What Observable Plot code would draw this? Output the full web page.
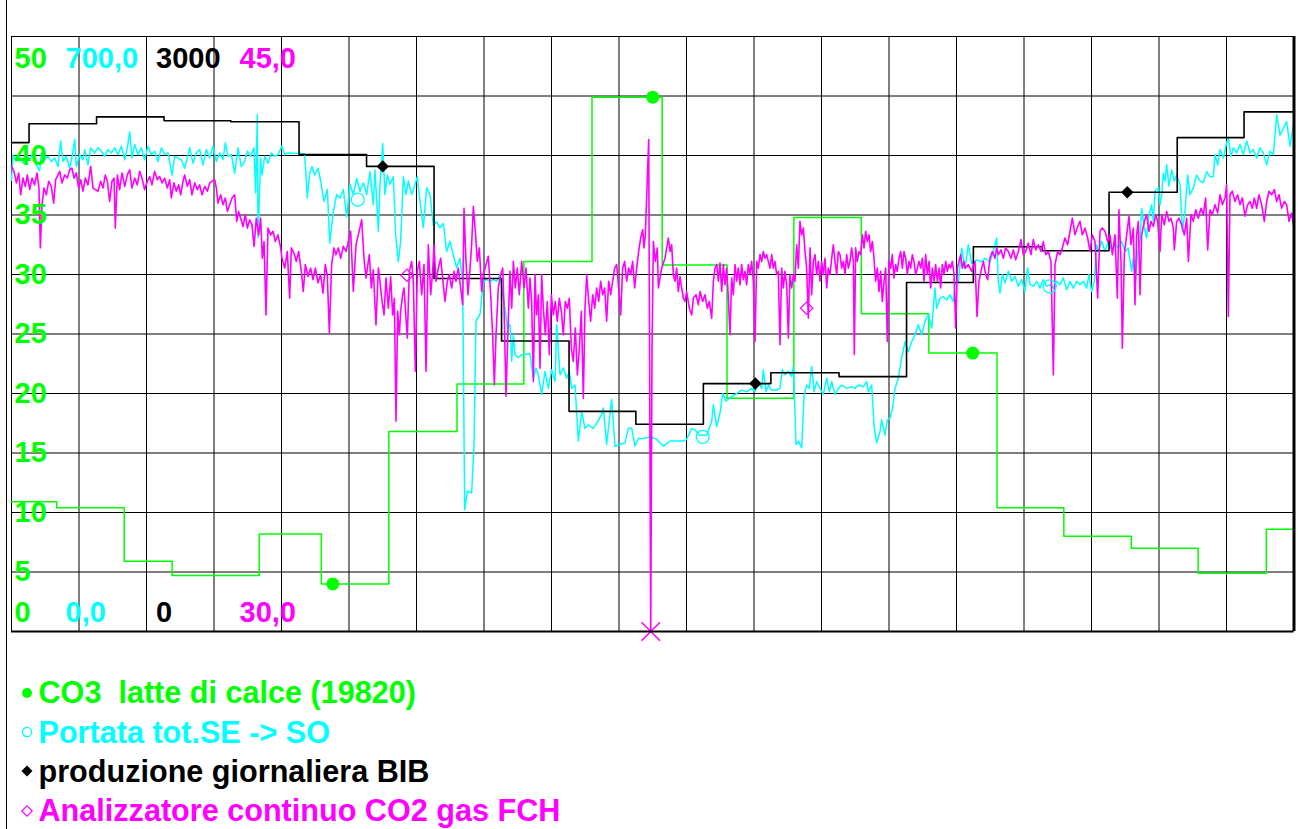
<!DOCTYPE html>
<html>
<head>
<meta charset="utf-8">
<script src="https://cdn.jsdelivr.net/npm/d3@7"></script>
<script src="https://cdn.jsdelivr.net/npm/@observablehq/plot@0.6"></script>
<style>
  html, body { margin: 0; padding: 0; background: #fff; }
  #page { position: relative; width: 1298px; height: 829px; overflow: hidden;
          font-family: "Liberation Sans", Arial, Helvetica, sans-serif; }
  #edge { position: absolute; left: 6px; top: 0; width: 1px; height: 829px; background: #000; }
  #chart { position: absolute; left: 0; top: 0; }
  #legend { position: absolute; left: 0; top: 673px; }
  .row { display: flex; align-items: center; height: 39.4px; font-weight: bold;
         font-size: 30.6px; white-space: pre; }
  .row svg { margin-left: 20px; margin-right: 4.5px; flex: none; }
</style>
</head>
<body>
<div id="page">
  <div id="edge"></div>
  <div id="chart"></div>
  <div id="legend"></div>
</div>
<script>
// ---- Axis ranges of the four series (min at the bottom, max at the top) ----
const limeRange = [0, 50];      // CO3 latte di calce
const flowRange = [0, 700];     // Portata tot. SE -> SO
const prodRange = [0, 3000];    // produzione giornaliera BIB
const co2Range  = [30, 45];     // CO2 gas FCH (%)
const limeTicks = [5, 10, 15, 20, 25, 30, 35, 40];

// ---- CO3 in milk of lime: lab value, held until the next analysis (days) ----
const limeDay = [0, 0.67, 1.67, 2.38, 3.67, 4.59, 5.59, 6.60, 7.59, 8.60, 9.64, 10.60, 11.59, 12.59, 13.59, 14.60, 15.59, 16.59, 17.58, 18.59, 19];
const limeCO3 = [10.9, 10.4, 5.9, 4.7, 8.2, 4.0, 16.8, 20.8, 31.1, 44.9, 30.8, 19.6, 34.8, 26.7, 23.4, 10.4, 8.0, 7.0, 4.9, 8.6, 8.6];

// ---- Daily BIB production (shift day starts ~06:00) ----
const prodDay = [0, 0.26, 1.26, 2.26, 3.25, 4.26, 5.26, 6.26, 7.26, 8.26, 9.25, 10.25, 11.25, 12.26, 13.26, 14.25, 15.27, 16.26, 17.27, 18.26, 19];
const prodBIB = [2465, 2560, 2595, 2575, 2570, 2405, 2345, 1780, 1465, 1110, 1045, 1250, 1305, 1285, 1760, 1940, 1920, 2215, 2490, 2620, 2620];

// ---- Total flow SE -> SO ----
const flowDay = [
  0.000, 0.022, 0.072, 0.121, 0.170, 0.220, 0.269, 0.319, 0.368, 0.417,
  0.442, 0.491, 0.541, 0.590, 0.640, 0.689, 0.728, 0.763, 0.812, 0.862,
  0.911, 0.936, 0.960, 1.010, 1.059, 1.084, 1.133, 1.173, 1.232, 1.281,
  1.331, 1.380, 1.430, 1.479, 1.528, 1.578, 1.627, 1.677, 1.716, 1.751,
  1.785, 1.825, 1.874, 1.923, 1.973, 2.022, 2.072, 2.121, 2.170, 2.220,
  2.269, 2.319, 2.378, 2.417, 2.467, 2.516, 2.565, 2.640, 2.689, 2.738,
  2.788, 2.837, 2.886, 2.936, 2.985, 3.035, 3.084, 3.133, 3.168, 3.207,
  3.257, 3.306, 3.356, 3.405, 3.454, 3.494, 3.543, 3.593, 3.617, 3.642,
  3.652, 3.691, 3.711, 3.751, 3.800, 3.849, 3.899, 3.948, 4.007, 4.047,
  4.096, 4.343, 4.383, 4.417, 4.452, 4.491, 4.541, 4.580, 4.630, 4.679,
  4.714, 4.768, 4.817, 4.867, 4.916, 4.965, 5.015, 5.064, 5.114, 5.163,
  5.212, 5.262, 5.311, 5.360, 5.385, 5.435, 5.459, 5.499, 5.533, 5.568,
  5.607, 5.657, 5.691, 5.731, 5.765, 5.805, 5.844, 5.879, 5.928, 5.978,
  6.012, 6.052, 6.101, 6.151, 6.200, 6.249, 6.299, 6.348, 6.398, 6.447,
  6.496, 6.546, 6.595, 6.644, 6.684, 6.714, 6.753, 6.817, 6.852, 6.881,
  6.941, 6.990, 7.040, 7.089, 7.138, 7.188, 7.237, 7.262, 7.311, 7.346,
  7.385, 7.410, 7.435, 7.459, 7.509, 7.558, 7.607, 7.681, 7.731, 7.770,
  7.805, 7.854, 7.904, 7.953, 8.002, 8.052, 8.077, 8.126, 8.175, 8.225,
  8.264, 8.299, 8.348, 8.398, 8.447, 8.496, 8.546, 8.620, 8.669, 8.743,
  8.768, 8.817, 8.891, 8.941, 9.015, 9.089, 9.138, 9.188, 9.237, 9.286,
  9.360, 9.410, 9.459, 9.533, 9.558, 9.657, 9.756, 9.854, 9.953, 10.002,
  10.077, 10.126, 10.200, 10.299, 10.373, 10.398, 10.447, 10.496, 10.536, 10.585,
  10.644, 10.743, 10.817, 10.891, 10.965, 11.015, 11.064, 11.114, 11.138, 11.178,
  11.212, 11.262, 11.336, 11.385, 11.420, 11.459, 11.509, 11.558, 11.583, 11.593,
  11.622, 11.657, 11.706, 11.741, 11.780, 11.820, 11.854, 11.889, 11.928, 11.978,
  12.027, 12.077, 12.116, 12.151, 12.200, 12.249, 12.299, 12.373, 12.447, 12.496,
  12.546, 12.620, 12.669, 12.694, 12.743, 12.778, 12.817, 12.867, 12.891, 12.941,
  12.975, 13.015, 13.054, 13.089, 13.138, 13.188, 13.237, 13.286, 13.336, 13.385,
  13.435, 13.484, 13.533, 13.583, 13.632, 13.681, 13.706, 13.756, 13.805, 13.854,
  13.904, 13.953, 13.978, 14.027, 14.077, 14.126, 14.175, 14.225, 14.299, 14.373,
  14.422, 14.496, 14.546, 14.595, 14.620, 14.644, 14.679, 14.719, 14.768, 14.817,
  14.867, 14.916, 14.965, 15.015, 15.054, 15.089, 15.138, 15.188, 15.237, 15.286,
  15.336, 15.385, 15.435, 15.484, 15.533, 15.583, 15.632, 15.681, 15.731, 15.780,
  15.830, 15.879, 15.928, 15.963, 16.002, 16.042, 16.077, 16.101, 16.151, 16.200,
  16.249, 16.299, 16.348, 16.398, 16.447, 16.496, 16.543, 16.595, 16.620, 16.654,
  16.684, 16.719, 16.743, 16.783, 16.817, 16.852, 16.891, 16.916, 16.941, 16.990,
  17.015, 17.040, 17.064, 17.089, 17.114, 17.148, 17.188, 17.227, 17.262, 17.311,
  17.346, 17.385, 17.425, 17.459, 17.509, 17.558, 17.607, 17.657, 17.706, 17.756,
  17.805, 17.830, 17.869, 17.904, 17.953, 18.002, 18.027, 18.067, 18.101, 18.151,
  18.200, 18.249, 18.299, 18.348, 18.398, 18.447, 18.496, 18.546, 18.595, 18.644,
  18.694, 18.743, 18.793, 18.842, 18.891, 18.941, 18.990
];
const flowRate = [
  531, 561, 553, 559, 551, 561, 555, 563, 549, 542,
  563, 555, 559, 553, 557, 547, 577, 553, 559, 545,
  565, 579, 547, 561, 555, 567, 549, 569, 563, 569,
  565, 559, 567, 563, 569, 561, 571, 555, 569, 588,
  557, 573, 561, 569, 555, 571, 561, 565, 553, 569,
  561, 563, 537, 559, 557, 555, 545, 569, 551, 563,
  567, 549, 567, 557, 571, 553, 563, 555, 575, 559,
  561, 539, 569, 547, 553, 565, 559, 569, 516, 608,
  463, 557, 537, 559, 551, 563, 559, 561, 571, 561,
  563, 562, 510, 539, 547, 537, 545, 530, 506, 520,
  457, 494, 514, 510, 520, 488, 526, 514, 533, 518,
  528, 514, 541, 502, 543, 471, 526, 574, 514, 537,
  526, 535, 467, 435, 459, 535, 514, 530, 514, 526,
  535, 506, 475, 522, 514, 478, 482, 475, 480, 447,
  459, 443, 428, 439, 412, 143, 165, 163, 220, 365,
  373, 412, 414, 412, 414, 412, 420, 404, 380, 357,
  361, 318, 349, 326, 322, 326, 326, 327, 298, 310,
  302, 279, 306, 286, 308, 294, 361, 302, 310, 298,
  306, 286, 290, 224, 259, 239, 243, 239, 245, 255,
  263, 220, 273, 218, 220, 222, 239, 239, 218, 227,
  227, 228, 229, 227, 226, 218, 224, 224, 224, 226,
  239, 237, 231, 231, 247, 267, 241, 257, 280, 271,
  275, 280, 284, 282, 286, 282, 294, 286, 308, 282,
  290, 284, 284, 286, 308, 302, 306, 300, 312, 294,
  220, 224, 216, 277, 290, 286, 312, 282, 294, 286,
  279, 298, 282, 294, 279, 286, 290, 286, 288, 286,
  290, 288, 294, 282, 290, 243, 222, 235, 249, 231,
  249, 251, 263, 286, 298, 322, 341, 329, 341, 349,
  361, 349, 365, 373, 357, 404, 380, 392, 394, 390,
  396, 388, 408, 412, 451, 427, 455, 433, 437, 435,
  439, 435, 447, 463, 412, 398, 420, 410, 424, 412,
  418, 406, 414, 400, 428, 408, 406, 412, 404, 414,
  406, 408, 404, 412, 408, 416, 402, 412, 404, 412,
  408, 412, 404, 420, 400, 412, 455, 447, 459, 447,
  459, 449, 457, 451, 459, 447, 451, 424, 439, 412,
  447, 459, 498, 475, 463, 490, 502, 482, 518, 522,
  502, 514, 539, 530, 549, 524, 543, 530, 537, 526,
  471, 494, 537, 514, 522, 537, 530, 528, 541, 535,
  535, 561, 549, 567, 557, 575, 580, 559, 569, 563,
  573, 561, 577, 563, 567, 557, 569, 563, 549, 565,
  561, 608, 584, 592, 600, 571, 596
];

// ---- Continuous CO2 analyser, FCH gas (%) ----
const co2Day = [
  0.000, 0.037, 0.072, 0.106, 0.136, 0.170, 0.205, 0.235, 0.269, 0.304,
  0.343, 0.378, 0.407, 0.427, 0.452, 0.481, 0.516, 0.551, 0.590, 0.625,
  0.654, 0.689, 0.714, 0.748, 0.788, 0.827, 0.862, 0.896, 0.926, 0.960,
  0.995, 1.025, 1.059, 1.094, 1.133, 1.173, 1.207, 1.242, 1.281, 1.321,
  1.356, 1.390, 1.420, 1.454, 1.489, 1.519, 1.538, 1.568, 1.602, 1.637,
  1.677, 1.716, 1.751, 1.785, 1.825, 1.864, 1.899, 1.933, 1.973, 2.012,
  2.047, 2.081, 2.121, 2.160, 2.195, 2.230, 2.269, 2.309, 2.343, 2.368,
  2.407, 2.442, 2.477, 2.506, 2.541, 2.565, 2.605, 2.640, 2.674, 2.714,
  2.753, 2.788, 2.822, 2.862, 2.901, 2.936, 2.970, 3.010, 3.035, 3.059,
  3.099, 3.133, 3.168, 3.198, 3.232, 3.267, 3.306, 3.336, 3.365, 3.395,
  3.430, 3.464, 3.494, 3.528, 3.563, 3.593, 3.627, 3.662, 3.691, 3.716,
  3.741, 3.770, 3.800, 3.840, 3.874, 3.909, 3.948, 3.988, 4.007, 4.047,
  4.086, 4.121, 4.146, 4.185, 4.220, 4.254, 4.294, 4.323, 4.353, 4.393,
  4.432, 4.467, 4.501, 4.541, 4.580, 4.615, 4.649, 4.679, 4.709, 4.743,
  4.778, 4.807, 4.842, 4.877, 4.916, 4.956, 4.990, 5.025, 5.064, 5.104,
  5.138, 5.188, 5.222, 5.252, 5.272, 5.301, 5.331, 5.360, 5.400, 5.435,
  5.459, 5.484, 5.519, 5.548, 5.583, 5.617, 5.647, 5.672, 5.696, 5.721,
  5.746, 5.765, 5.795, 5.815, 5.864, 5.894, 5.928, 5.953, 5.983, 6.012,
  6.042, 6.077, 6.111, 6.141, 6.175, 6.210, 6.240, 6.259, 6.289, 6.323,
  6.358, 6.388, 6.422, 6.457, 6.486, 6.521, 6.556, 6.585, 6.620, 6.654,
  6.684, 6.704, 6.733, 6.763, 6.793, 6.817, 6.842, 6.872, 6.901, 6.931,
  6.965, 6.990, 7.030, 7.064, 7.099, 7.128, 7.153, 7.178, 7.212, 7.247,
  7.277, 7.296, 7.326, 7.356, 7.385, 7.410, 7.435, 7.464, 7.494, 7.523,
  7.558, 7.593, 7.622, 7.657, 7.681, 7.706, 7.731, 7.756, 7.780, 7.805,
  7.830, 7.854, 7.879, 7.909, 7.938, 7.968, 7.998, 8.027, 8.057, 8.086,
  8.116, 8.146, 8.175, 8.205, 8.235, 8.264, 8.294, 8.323, 8.353, 8.383,
  8.412, 8.442, 8.472, 8.496, 8.521, 8.551, 8.580, 8.610, 8.640, 8.669,
  8.699, 8.728, 8.758, 8.788, 8.817, 8.847, 8.877, 8.906, 8.936, 8.965,
  8.995, 9.025, 9.054, 9.084, 9.114, 9.143, 9.173, 9.202, 9.232, 9.262,
  9.291, 9.321, 9.351, 9.370, 9.390, 9.440, 9.470, 9.489, 9.509, 9.538,
  9.568, 9.583, 9.632, 9.681, 9.731, 9.756, 9.780, 9.805, 9.830, 9.854,
  9.879, 9.904, 9.928, 9.953, 9.978, 10.002, 10.042, 10.077, 10.101, 10.141,
  10.175, 10.200, 10.240, 10.274, 10.309, 10.338, 10.373, 10.398, 10.422, 10.447,
  10.472, 10.496, 10.521, 10.546, 10.570, 10.595, 10.620, 10.644, 10.669, 10.694,
  10.719, 10.743, 10.768, 10.793, 10.817, 10.842, 10.867, 10.891, 10.916, 10.941,
  10.965, 10.990, 11.015, 11.040, 11.064, 11.089, 11.114, 11.138, 11.163, 11.188,
  11.212, 11.237, 11.262, 11.286, 11.311, 11.336, 11.360, 11.385, 11.410, 11.435,
  11.459, 11.484, 11.509, 11.533, 11.558, 11.583, 11.607, 11.632, 11.657, 11.681,
  11.706, 11.731, 11.756, 11.780, 11.805, 11.830, 11.854, 11.879, 11.904, 11.928,
  11.953, 11.978, 12.002, 12.027, 12.052, 12.077, 12.101, 12.126, 12.151, 12.175,
  12.200, 12.225, 12.249, 12.274, 12.299, 12.323, 12.348, 12.373, 12.398, 12.422,
  12.447, 12.472, 12.486, 12.506, 12.531, 12.556, 12.580, 12.605, 12.630, 12.654,
  12.679, 12.704, 12.728, 12.753, 12.778, 12.802, 12.827, 12.852, 12.877, 12.901,
  12.926, 12.951, 12.975, 13.000, 13.025, 13.049, 13.074, 13.099, 13.123, 13.148,
  13.173, 13.198, 13.222, 13.247, 13.272, 13.296, 13.321, 13.346, 13.370, 13.395,
  13.420, 13.444, 13.469, 13.494, 13.519, 13.543, 13.568, 13.593, 13.617, 13.642,
  13.667, 13.691, 13.716, 13.741, 13.765, 13.790, 13.815, 13.840, 13.864, 13.889,
  13.914, 13.938, 13.963, 13.988, 14.012, 14.037, 14.062, 14.086, 14.111, 14.126,
  14.175, 14.225, 14.274, 14.304, 14.333, 14.373, 14.398, 14.432, 14.462, 14.496,
  14.531, 14.570, 14.595, 14.620, 14.659, 14.694, 14.728, 14.768, 14.807, 14.842,
  14.877, 14.916, 14.956, 14.990, 15.025, 15.064, 15.104, 15.138, 15.173, 15.212,
  15.252, 15.286, 15.321, 15.360, 15.400, 15.435, 15.459, 15.499, 15.533, 15.568,
  15.607, 15.647, 15.681, 15.716, 15.756, 15.795, 15.830, 15.864, 15.904, 15.943,
  15.978, 16.012, 16.052, 16.091, 16.126, 16.160, 16.200, 16.240, 16.274, 16.309,
  16.348, 16.383, 16.407, 16.437, 16.457, 16.486, 16.521, 16.556, 16.585, 16.620,
  16.644, 16.669, 16.694, 16.719, 16.743, 16.783, 16.817, 16.852, 16.881, 16.916,
  16.951, 16.980, 17.015, 17.040, 17.079, 17.114, 17.148, 17.178, 17.212, 17.227,
  17.262, 17.296, 17.336, 17.375, 17.410, 17.435, 17.474, 17.509, 17.543, 17.583,
  17.622, 17.657, 17.691, 17.721, 17.756, 17.790, 17.830, 17.869, 17.904, 17.938,
  17.978, 18.002, 18.027, 18.052, 18.086, 18.126, 18.165, 18.200, 18.235, 18.274,
  18.314, 18.348, 18.383, 18.412, 18.447, 18.481, 18.521, 18.560, 18.595, 18.630,
  18.669, 18.709, 18.743, 18.778, 18.817, 18.857, 18.891, 18.926, 18.965, 19.000
];
const co2Pct = [
  41.73, 41.60, 41.31, 41.56, 41.01, 41.43, 41.22, 41.51, 41.14, 41.43,
  41.26, 41.56, 41.18, 39.67, 40.76, 41.18, 41.01, 41.35, 41.22, 40.80,
  41.39, 41.51, 41.60, 41.31, 41.51, 41.43, 41.64, 41.68, 41.43, 41.56,
  41.18, 41.39, 41.10, 41.43, 41.26, 41.73, 41.18, 41.14, 41.10, 41.35,
  41.18, 41.51, 41.35, 40.84, 41.35, 41.43, 40.17, 41.51, 41.14, 41.56,
  41.22, 41.51, 41.64, 41.18, 41.43, 41.26, 41.60, 41.43, 41.14, 41.35,
  41.47, 41.26, 41.60, 41.39, 41.47, 41.31, 41.43, 41.18, 41.39, 40.93,
  41.31, 41.10, 41.26, 41.01, 41.35, 41.51, 41.22, 41.39, 41.01, 41.31,
  41.14, 41.26, 41.01, 41.22, 41.10, 41.31, 41.35, 41.39, 41.18, 40.80,
  41.01, 40.76, 40.93, 40.59, 40.76, 40.93, 41.01, 40.34, 40.59, 40.42,
  40.21, 40.51, 40.17, 40.38, 40.25, 39.71, 40.42, 40.00, 40.42, 39.41,
  39.83, 37.98, 40.17, 40.00, 40.09, 39.83, 40.00, 39.67, 39.41, 39.16,
  39.58, 38.40, 39.67, 39.54, 39.33, 39.58, 39.08, 38.57, 39.25, 38.95,
  39.16, 38.87, 39.16, 38.79, 39.00, 38.53, 39.25, 38.95, 37.52, 39.25,
  39.67, 39.50, 39.67, 39.41, 39.71, 39.58, 39.83, 40.09, 38.57, 39.75,
  40.00, 40.38, 39.41, 38.91, 39.16, 39.50, 38.66, 39.12, 37.73, 39.16,
  38.83, 38.40, 37.98, 38.91, 38.15, 38.95, 37.98, 38.40, 35.30, 38.07,
  37.48, 38.07, 38.49, 38.66, 37.40, 39.08, 39.33, 38.83, 36.56, 39.08,
  39.33, 38.49, 39.25, 36.56, 39.75, 38.49, 39.08, 39.75, 38.83, 39.16,
  39.41, 38.91, 38.32, 38.83, 39.00, 38.66, 39.08, 38.83, 39.16, 38.66,
  38.24, 40.67, 39.33, 38.49, 39.16, 39.75, 40.72, 40.09, 39.33, 39.67,
  38.57, 39.00, 39.25, 39.46, 38.49, 37.48, 36.22, 37.48, 38.66, 39.00,
  39.16, 38.24, 35.93, 37.65, 39.08, 38.15, 39.33, 38.66, 39.16, 38.49,
  39.33, 38.66, 39.16, 38.15, 38.91, 38.32, 36.30, 39.00, 37.98, 38.49,
  36.64, 39.00, 38.15, 37.48, 38.32, 36.98, 38.49, 37.98, 38.32, 37.82,
  38.40, 38.07, 37.48, 38.32, 38.15, 38.40, 37.14, 36.81, 37.65, 36.47,
  37.14, 38.07, 35.88, 38.15, 39.00, 38.32, 37.82, 38.49, 38.15, 38.66,
  38.32, 38.83, 38.49, 38.66, 37.82, 38.83, 38.49, 38.83, 39.16, 39.25,
  38.66, 37.98, 39.16, 39.33, 38.83, 39.16, 39.00, 39.33, 38.66, 39.16,
  39.58, 39.92, 40.13, 39.67, 40.00, 42.40, 30.00, 37.14, 39.83, 39.33,
  39.67, 38.66, 39.16, 39.41, 39.92, 39.58, 39.75, 39.00, 38.83, 39.16,
  38.57, 38.95, 38.66, 38.40, 38.32, 38.57, 38.15, 37.98, 38.40, 38.49,
  38.24, 38.57, 38.32, 38.49, 38.15, 38.32, 37.90, 38.83, 39.16, 39.25,
  38.83, 39.29, 38.57, 39.25, 38.74, 39.16, 38.40, 37.48, 38.91, 38.49,
  39.25, 38.83, 39.16, 38.74, 39.25, 38.87, 39.08, 38.74, 39.25, 39.00,
  39.33, 38.83, 37.31, 39.33, 39.16, 39.50, 39.33, 39.58, 39.41, 39.50,
  39.33, 39.16, 39.50, 39.16, 39.33, 39.00, 39.08, 37.23, 39.16, 38.66,
  39.08, 38.74, 37.40, 39.00, 38.66, 39.00, 38.83, 39.75, 39.16, 40.34,
  40.00, 40.17, 39.58, 39.16, 37.90, 39.67, 38.49, 39.33, 39.50, 39.00,
  39.33, 38.83, 39.33, 39.00, 39.41, 38.66, 39.16, 39.00, 39.41, 39.75,
  39.33, 39.00, 39.58, 39.50, 39.16, 39.33, 39.00, 39.50, 39.16, 39.33,
  39.67, 39.33, 36.98, 39.67, 39.33, 39.58, 39.50, 40.00, 39.67, 40.09,
  39.83, 40.00, 39.58, 39.83, 39.41, 38.83, 39.16, 38.57, 39.08, 38.32,
  38.83, 39.16, 37.31, 39.33, 39.16, 39.50, 38.91, 39.25, 39.08, 39.41,
  39.58, 39.16, 39.58, 39.41, 39.00, 39.33, 39.16, 39.50, 39.33, 39.00,
  39.16, 39.33, 39.16, 39.41, 38.83, 39.50, 39.00, 39.33, 38.66, 39.16,
  38.83, 39.25, 38.83, 39.16, 38.66, 39.25, 39.00, 39.33, 39.08, 39.25,
  39.16, 39.33, 39.00, 37.65, 39.16, 39.33, 39.50, 39.16, 39.33, 39.16,
  39.25, 39.08, 39.33, 37.94, 38.83, 39.16, 39.33, 39.00, 38.87, 39.41,
  39.58, 39.41, 39.67, 39.50, 39.62, 39.41, 39.67, 39.58, 39.41, 39.62,
  39.37, 39.58, 39.88, 39.50, 39.58, 39.79, 39.50, 39.88, 39.62, 39.75,
  39.58, 39.83, 39.50, 39.58, 39.33, 36.47, 39.25, 39.58, 39.50, 39.67,
  39.92, 39.75, 40.09, 40.42, 40.00, 40.21, 40.34, 40.00, 40.17, 39.92,
  39.58, 40.00, 39.83, 38.40, 40.09, 40.17, 40.09, 39.83, 40.00, 39.50,
  40.00, 38.40, 40.63, 39.33, 37.14, 39.50, 40.00, 40.47, 39.75, 40.17,
  38.24, 40.00, 40.34, 38.49, 40.00, 40.34, 40.51, 40.09, 40.34, 40.21,
  40.51, 40.34, 39.58, 40.51, 40.25, 40.59, 40.34, 40.42, 40.17, 39.62,
  40.34, 40.42, 40.25, 40.00, 40.42, 39.33, 40.51, 40.34, 40.63, 40.42,
  40.67, 40.51, 40.93, 39.62, 40.63, 40.51, 40.76, 40.55, 41.01, 40.76,
  40.93, 41.26, 37.94, 41.01, 41.10, 40.84, 41.01, 40.76, 40.93, 40.47,
  40.76, 40.84, 40.67, 40.93, 40.67, 41.01, 40.76, 40.34, 40.84, 41.10,
  41.01, 41.14, 40.84, 41.01, 40.67, 40.84, 40.76, 40.34, 40.55, 40.17
];

// ---- Series markers ----
const limeMarkDay = [4.76, 9.50, 14.24];
const limeMarkVal = [4.0, 44.9, 23.4];
const flowMarkDay = [5.13, 10.24, 15.38];
const flowMarkVal = [508, 229, 406];
const prodMarkDay = [5.50, 11.02, 16.53];
const prodMarkVal = [2345, 1250, 2215];
const co2MarkDay = [5.86, 11.78];
const co2MarkVal = [38.98, 38.15];
const co2MinDay = [9.47];
const co2MinVal = [30.0];

// ---- Legend ----
const legendLabels = [
  "CO3  latte di calce (19820)",
  "Portata tot.SE -> SO",
  "produzione giornaliera BIB",
  "Analizzatore continuo CO2 gas FCH"
];

// ------------------------------------------------------------------
const LIME = "#00ff00", CYAN = "#00ffff", INK = "#000000", MAGENTA = "#ff00ff";
const FONT = '"Liberation Sans", Arial, Helvetica, sans-serif';

// every series shares one vertical grid (0..50 in CO3 units)
const toGrid = (range, v) => (v - range[0]) / (range[1] - range[0]) * 50;
const rows = (days, vals, range) => {
  const n = Math.min(days.length, vals.length);
  return d3.range(n).map(i => ({day: days[i], y: toGrid(range, vals[i])}));
};

const limeData = rows(limeDay, limeCO3, limeRange);
const prodData = rows(prodDay, prodBIB, prodRange);
const flowData = rows(flowDay, flowRate, flowRange);
const co2Data  = rows(co2Day, co2Pct, co2Range);

const int = d3.format("d");
const dec1 = v => d3.format(".1f")(v).replace(".", ",");
const scaleLabels = [
  {range: limeRange, fmt: int,  color: LIME,    dx: 3},
  {range: flowRange, fmt: dec1, color: CYAN,    dx: 54},
  {range: prodRange, fmt: int,  color: INK,     dx: 144.5},
  {range: co2Range,  fmt: dec1, color: MAGENTA, dx: 228}
];
const labelStyle = {textAnchor: "start", lineAnchor: "middle", fontSize: 29, fontWeight: "bold", fontFamily: FONT};

const chart = Plot.plot({
  width: 1298,
  height: 640,
  marginLeft: 11,
  marginRight: 4.5,
  marginTop: 36,
  marginBottom: 9,
  x: {domain: [0, 19], axis: null},
  y: {domain: [0, 50], axis: null},
  style: {background: "transparent", fontFamily: FONT, overflow: "visible"},
  marks: [
    Plot.ruleX(d3.range(0, 20), {stroke: "#000", strokeWidth: 1}),
    Plot.ruleY(d3.range(0, 51, 5), {stroke: "#000", strokeWidth: 1}),
    Plot.line(limeData, {x: "day", y: "y", curve: "step-after", stroke: LIME, strokeWidth: 1.5}),
    Plot.line(flowData, {x: "day", y: "y", stroke: CYAN, strokeWidth: 1.5}),
    Plot.line(prodData, {x: "day", y: "y", curve: "step-after", stroke: INK, strokeWidth: 1.6}),
    Plot.line(co2Data, {x: "day", y: "y", stroke: MAGENTA, strokeWidth: 1.6}),
    Plot.dot(rows(limeMarkDay, limeMarkVal, limeRange), {x: "day", y: "y", r: 6.5, fill: LIME, stroke: null}),
    Plot.dot(rows(flowMarkDay, flowMarkVal, flowRange), {x: "day", y: "y", r: 6.5, fill: "none", stroke: CYAN, strokeWidth: 1.3}),
    Plot.dot(rows(prodMarkDay, prodMarkVal, prodRange), {x: "day", y: "y", symbol: "diamond2", r: 5.6, fill: INK, stroke: null}),
    Plot.dot(rows(co2MarkDay, co2MarkVal, co2Range), {x: "day", y: "y", symbol: "diamond2", r: 5.6, fill: "none", stroke: MAGENTA, strokeWidth: 1.2}),
    Plot.dot(rows(co2MinDay, co2MinVal, co2Range), {x: "day", y: "y", symbol: "times", r: 8.5, stroke: MAGENTA, strokeWidth: 1.5}),
    Plot.ruleX([19], {stroke: "#000", strokeWidth: 3}),
    Plot.ruleY([0], {stroke: "#000", strokeWidth: 2}),
    Plot.text(limeTicks, {y: d => d, text: d => String(d), frameAnchor: "left", dx: 3, fill: LIME, ...labelStyle}),
    ...scaleLabels.flatMap(s => [
      Plot.text([s.fmt(s.range[1])], {text: d => d, frameAnchor: "top-left", dx: s.dx, dy: 22, fill: s.color, ...labelStyle}),
      Plot.text([s.fmt(s.range[0])], {text: d => d, frameAnchor: "bottom-left", dx: s.dx, dy: -19, fill: s.color, ...labelStyle})
    ])
  ]
});
document.getElementById("chart").appendChild(chart);

// legend below the plot
const legendSymbols = [
  `<circle cx="7" cy="7" r="5" fill="${LIME}"/>`,
  `<circle cx="7" cy="7" r="4.6" fill="none" stroke="${CYAN}" stroke-width="1.3"/>`,
  `<path d="M7,1.5L12.5,7L7,12.5L1.5,7Z" fill="${INK}"/>`,
  `<path d="M7,1.8L12.2,7L7,12.2L1.8,7Z" fill="none" stroke="${MAGENTA}" stroke-width="1.2"/>`
];
const legendColors = [LIME, CYAN, INK, MAGENTA];
const legend = document.getElementById("legend");
legendLabels.forEach((label, i) => {
  const row = document.createElement("div");
  row.className = "row";
  row.style.color = legendColors[i];
  row.innerHTML = `<svg width="14" height="14" viewBox="0 0 14 14">${legendSymbols[i]}</svg>`;
  const span = document.createElement("span");
  span.textContent = label;
  row.appendChild(span);
  legend.appendChild(row);
});
</script>
</body>
</html>
